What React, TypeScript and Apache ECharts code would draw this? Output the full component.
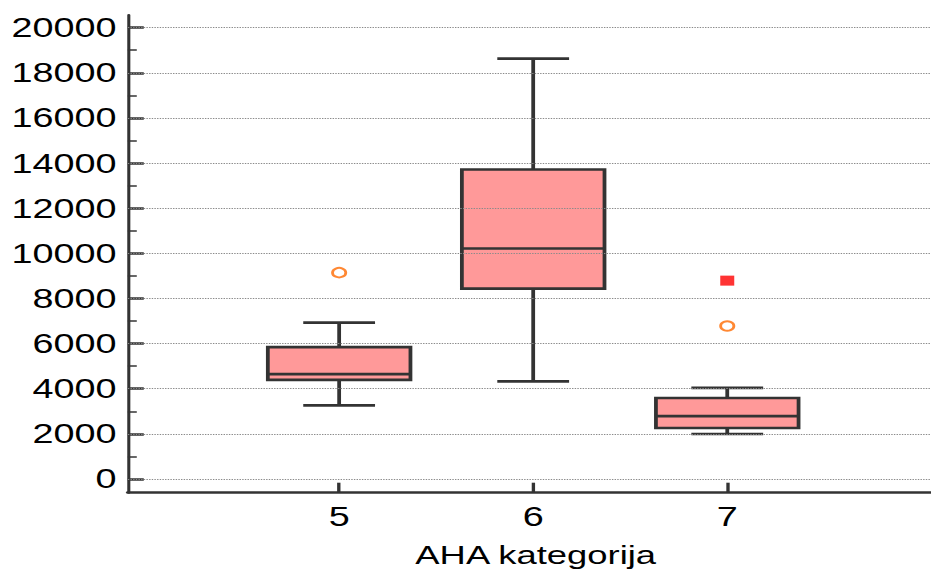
import React, { useEffect, useRef } from "react";
import * as echarts from "echarts";

// ---- data ----
const categories = [5, 6, 7];
const whiskerLow = [3265, 4330, 1995];
const q1Values = [4390, 8440, 2260];
const medianValues = [4650, 10215, 2790];
const q3Values = [5840, 13715, 3590];
const whiskerHigh = [6930, 18625, 4035];
const outsideValues = [
  [5, 9145],
  [7, 6780],
];
const farOutValues = [[7, 8790]];
const yMajorTicks = [0, 2000, 4000, 6000, 8000, 10000, 12000, 14000, 16000, 18000, 20000];
const yMinorTicks = [1000, 3000, 5000, 7000, 9000, 11000, 13000, 15000, 17000, 19000];
const xAxisName = "AHA kategorija";

// ---- style constants ----
const STRETCH = 1.4; // the reference is horizontally stretched
const WIDTH = 931 / STRETCH;
const HEIGHT = 572;
const FONT = "'Liberation Sans', Arial, sans-serif";
const DARK = "#333333";
const BOX_W = 0.735;
const CAP_W = 0.37;
const Y_MIN = -607;
const Y_MAX = 20561;

export default function App() {
  const ref = useRef<HTMLDivElement>(null);

  useEffect(() => {
    if (!ref.current) return;
    const chart = echarts.init(ref.current, null, { renderer: "svg" });
    const boxData = categories.map((c, i) => [
      c,
      whiskerLow[i],
      q1Values[i],
      medianValues[i],
      q3Values[i],
      whiskerHigh[i],
    ]);

    const option: any = {
      animation: false,
      backgroundColor: "#ffffff",
      grid: { left: 91.3, right: 0, top: 15, bottom: 79.3, outerBoundsMode: "none", containLabel: false },
      xAxis: {
        type: "value",
        min: 3.911,
        max: 8.05,
        axisLine: { show: true, onZero: false, lineStyle: { color: DARK, width: 2.7 } },
        axisTick: {
          show: true,
          inside: true,
          length: 10,
          customValues: categories,
          lineStyle: { color: DARK, width: 2.4 },
        },
        axisLabel: {
          customValues: categories,
          formatter: (v: number) => String(v),
          margin: 10,
          fontSize: 27,
          color: "#000",
          fontFamily: FONT,
        },
        splitLine: { show: false },
        name: xAxisName,
        nameLocation: "middle",
        nameGap: 49,
        nameTextStyle: { fontSize: 26, color: "#000", fontFamily: FONT, padding: [0, 0, 0, 9] },
      },
      yAxis: [
        {
          type: "value",
          min: Y_MIN,
          max: Y_MAX,
          axisLine: { show: true, onZero: false, lineStyle: { color: DARK, width: 2.2 } },
          axisTick: {
            show: true,
            inside: true,
            length: 11.4,
            customValues: yMajorTicks,
            lineStyle: { color: DARK, width: 2.5 },
          },
          axisLabel: {
            customValues: yMajorTicks,
            formatter: (v: number) => String(v),
            margin: 8,
            fontSize: 27,
            color: "#000",
            fontFamily: FONT,
          },
          splitLine: { show: false },
        },
        {
          type: "value",
          position: "left",
          min: Y_MIN,
          max: Y_MAX,
          axisLine: { show: false },
          axisTick: {
            show: true,
            inside: true,
            length: 6.4,
            customValues: yMinorTicks,
            lineStyle: { color: DARK, width: 1.5 },
          },
          axisLabel: { show: false },
          splitLine: { show: false },
        },
      ],
      series: [
        {
          type: "line",
          data: [],
          z: 1,
          markLine: {
            silent: true,
            symbol: ["none", "none"],
            label: { show: false },
            lineStyle: { color: "#8a8a8a", width: 1, type: [1, 0.9] },
            data: yMajorTicks.map((v) => ({ yAxis: v })),
          },
        },
        {
          type: "custom",
          z: 2,
          data: boxData,
          encode: { x: 0, y: [1, 2, 3, 4, 5] },
          renderItem: (_params: any, api: any) => {
            const x = api.value(0);
            const lo = api.coord([x, api.value(1)]);
            const q1 = api.coord([x, api.value(2)]);
            const md = api.coord([x, api.value(3)]);
            const q3 = api.coord([x, api.value(4)]);
            const hi = api.coord([x, api.value(5)]);
            const bw = api.size([BOX_W, 0])[0];
            const cw = api.size([CAP_W, 0])[0];
            const cx = lo[0];
            const st = { stroke: DARK, lineWidth: 2.7 };
            return {
              type: "group",
              children: [
                { type: "line", shape: { x1: cx, y1: hi[1], x2: cx, y2: q3[1] }, style: st },
                { type: "line", shape: { x1: cx, y1: q1[1], x2: cx, y2: lo[1] }, style: st },
                { type: "line", shape: { x1: cx - cw / 2, y1: hi[1], x2: cx + cw / 2, y2: hi[1] }, style: st },
                { type: "line", shape: { x1: cx - cw / 2, y1: lo[1], x2: cx + cw / 2, y2: lo[1] }, style: st },
                {
                  type: "rect",
                  shape: { x: cx - bw / 2, y: q3[1], width: bw, height: q1[1] - q3[1] },
                  style: { fill: "#FF9999", stroke: DARK, lineWidth: 2.7 },
                },
                { type: "line", shape: { x1: cx - bw / 2, y1: md[1], x2: cx + bw / 2, y2: md[1] }, style: st },
              ],
            };
          },
        },
        {
          type: "scatter",
          z: 3,
          data: outsideValues,
          symbol: "emptyCircle",
          symbolSize: 9.5,
          itemStyle: { color: "#FF6A00", borderColor: "#FF6A00", borderWidth: 1.8 },
        },
        {
          type: "scatter",
          z: 3,
          data: farOutValues,
          symbol: "rect",
          symbolSize: 10,
          itemStyle: { color: "#FF0000" },
        },
      ],
    };
    chart.setOption(option);
    return () => chart.dispose();
  }, []);

  return (
    <div
      ref={ref}
      style={{
        position: "absolute",
        left: 0,
        top: 0,
        width: WIDTH,
        height: HEIGHT,
        transform: `scaleX(${STRETCH})`,
        transformOrigin: "0 0",
        background: "#fff",
      }}
    />
  );
}
